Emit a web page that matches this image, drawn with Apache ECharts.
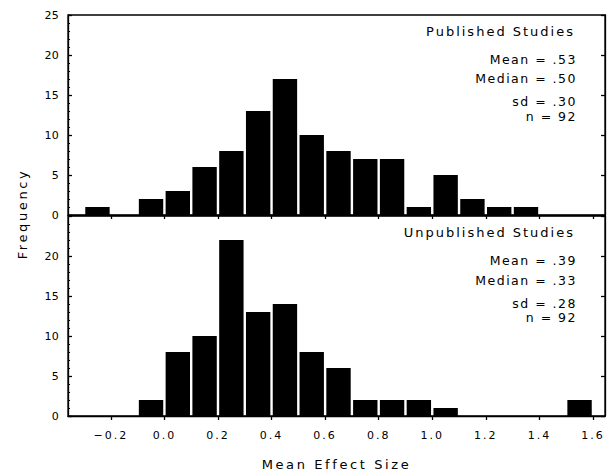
<!DOCTYPE html>
<html><head><meta charset="utf-8">
<script src="https://cdn.jsdelivr.net/npm/echarts@6/dist/echarts.min.js"></script>
<style>html,body{margin:0;padding:0;background:#fff}#c{width:610px;height:474px}</style>
</head><body><div id="c"></div>
<script>
// Bin edges (bin width 0.1)
const binLow  = [-0.3,-0.2,-0.1,0.0,0.1,0.2,0.3,0.4,0.5,0.6,0.7,0.8,0.9,1.0,1.1,1.2,1.3,1.4,1.5];
const binHigh = [-0.2,-0.1,0.0,0.1,0.2,0.3,0.4,0.5,0.6,0.7,0.8,0.9,1.0,1.1,1.2,1.3,1.4,1.5,1.6];
const published   = [1,0,2,3,6,8,13,17,10,8,7,7,1,5,2,1,1,0,0];
const unpublished = [0,0,2,8,10,22,13,14,8,6,2,2,2,1,0,0,0,0,2];
const xTickValues = [-0.2,0.0,0.2,0.4,0.6,0.8,1.0,1.2,1.4,1.6];
const pubTitle = 'Published Studies';
const unpubTitle = 'Unpublished Studies';
const pubStats = ['Mean = .53','Median = .50','sd = .30','n = 92'];
const unpubStats = ['Mean = .39','Median = .33','sd = .28','n = 92'];
const xName = 'Mean Effect Size';
const yName = 'Frequency';

const FONT = '"DejaVu Sans"';
const chart = echarts.init(document.getElementById('c'), null, {renderer:'svg'});

function toData(vals){ return vals.map((v,i)=>[binLow[i], binHigh[i], v]); }
function renderBar(params, api){
  const lo = api.value(0), hi = api.value(1), v = api.value(2);
  if (!v) return null;
  const p0 = api.coord([lo, v]);
  const p1 = api.coord([hi, 0]);
  return {type:'rect', shape:{x:p0[0]+1.2, y:p0[1], width:p1[0]-p0[0]-2.4, height:p1[1]-p0[1]}, style:{fill:'#000'}};
}
const lineStyle = {color:'#000', width:1.3};
function xAxisDef(grid, showLabels){
  return {type:'value', gridIndex:grid, min:-0.36, max:1.645,
    axisLine:{show:true, onZero:false, lineStyle},
    axisTick:{show:true, inside:false, length:4, customValues:xTickValues, lineStyle},
    axisLabel:{show:showLabels, customValues:xTickValues, color:'#000', fontFamily:'DejaVu Sans', fontSize:11, margin:14,
      formatter:v=>v.toFixed(1).replace('-','\u2212')},
    splitLine:{show:false},
    name: showLabels ? xName : '', nameLocation:'middle', nameGap:42,
    nameTextStyle:{color:'#000', fontFamily:'DejaVu Sans', fontSize:13}
  };
}
function yAxisDef(grid, hideMax){
  return {type:'value', gridIndex:grid, min:0, max:25, interval:5,
    axisLine:{show:true, onZero:false, lineStyle},
    axisTick:{show:true, inside:true, length:4, lineStyle},
    minorTick:{show:true, splitNumber:5, length:2, lineStyle:{color:'#000', width:1}},
    axisLabel:{color:'#000', fontFamily:'DejaVu Sans', fontSize:11, margin:9, showMaxLabel:!hideMax},
    splitLine:{show:false}};
}
function yRight(grid){
  return {type:'value', gridIndex:grid, min:0, max:25, interval:5, position:'right',
    axisLine:{show:true, onZero:false, lineStyle}, axisTick:{show:true, inside:true, length:4, lineStyle},
    axisLabel:{show:false}, splitLine:{show:false}};
}
function statTexts(title, stats, yc){
  const el = [{type:'text', x:575, y:yc, style:{text:title, fill:'#000', font:'13px '+FONT, align:'right', textAlign:'right', verticalAlign:'middle', textVerticalAlign:'middle'}}];
  const offs = [28, 47.5, 70.5, 85];
  stats.forEach((s,i)=>el.push({type:'text', x:577, y:yc+offs[i], style:{text:s, fill:'#000', font:'12.5px '+FONT, align:'right', textAlign:'right', verticalAlign:'middle', textVerticalAlign:'middle'}}));
  return el;
}

chart.setOption({
  animation:false,
  backgroundColor:'#fff',
  grid:[
    {left:68, top:15, width:537, height:200, show:true, borderColor:'#000', borderWidth:1.3},
    {left:68, top:216, width:537, height:200, show:true, borderColor:'#000', borderWidth:1.3}
  ],
  xAxis:[xAxisDef(0,false), xAxisDef(1,true)],
  yAxis:[yAxisDef(0,false), yAxisDef(1,true), yRight(0), yRight(1)],
  series:[
    {type:'custom', xAxisIndex:0, yAxisIndex:0, renderItem:renderBar, encode:{x:[0,1], y:2}, data:toData(published)},
    {type:'custom', xAxisIndex:1, yAxisIndex:1, renderItem:renderBar, encode:{x:[0,1], y:2}, data:toData(unpublished)}
  ],
  graphic:[
    ...statTexts(pubTitle, pubStats, 31),
    ...statTexts(unpubTitle, unpubStats, 232.5),
    {type:'text', x:22, y:214, rotation:Math.PI/2, style:{text:yName, fill:'#000', font:'13px '+FONT, align:'center', textAlign:'center', verticalAlign:'middle', textVerticalAlign:'middle'}}
  ]
});

function applySpacing(){
  document.querySelectorAll('#c svg text').forEach(t=>{
    const s = t.textContent;
    let ls;
    if (/Studies/.test(s)) ls = 2;
    else if (/=/.test(s)) ls = 1.5;
    else if (s === xName || s === yName) ls = 2.6;
    else if (/\./.test(s)) ls = 2;
    else ls = 0.3;
    t.style.letterSpacing = ls + 'px';
  });
}
chart.on('finished', applySpacing);
applySpacing();
setTimeout(applySpacing, 50);
</script></body></html>
